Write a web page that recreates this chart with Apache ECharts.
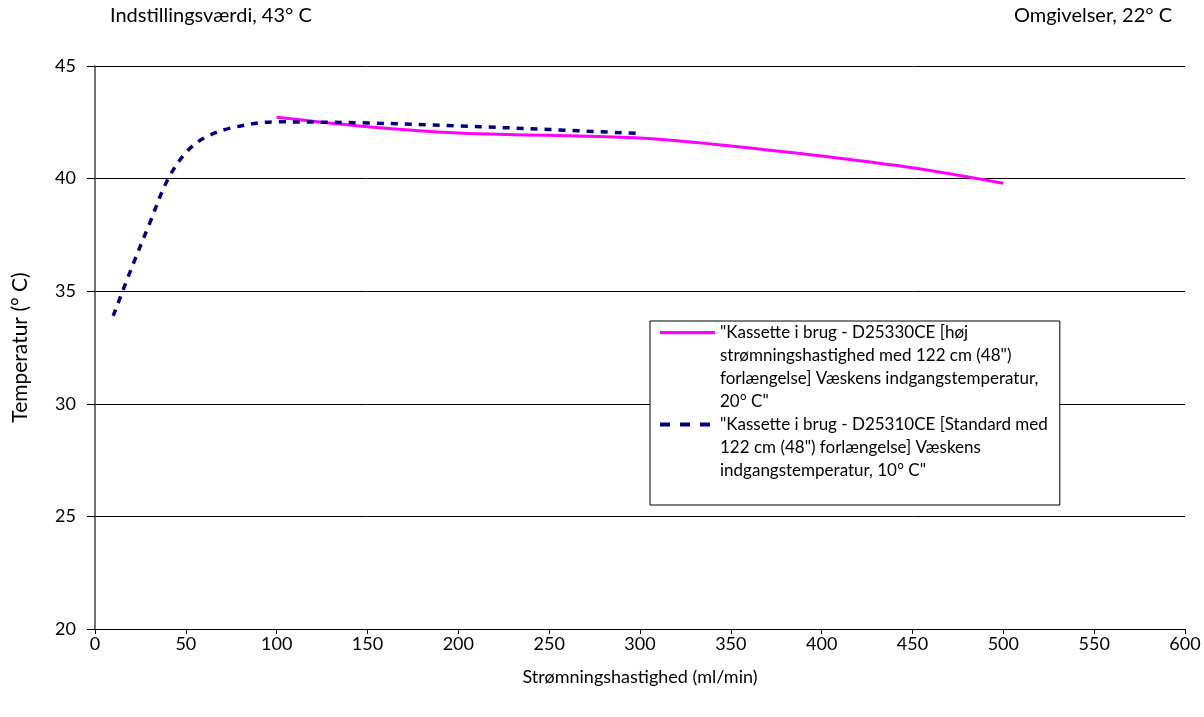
<!DOCTYPE html>
<html>
<head>
<meta charset="utf-8">
<script src="https://cdn.jsdelivr.net/npm/echarts@6/dist/echarts.min.js"></script>
<style>html,body{margin:0;padding:0;background:#fff}#c{width:1204px;height:717px}</style>
</head>
<body>
<div id="c"></div>
<script>
// ---- data ----
var flowHigh = [100, 150, 200, 250, 300, 350, 400, 450, 500];
var tempHigh = [42.72, 42.3, 42.02, 41.92, 41.8, 41.45, 41.0, 40.48, 39.79];
var flowStd = [10, 20, 30, 40, 50, 60, 75, 100, 150, 200, 250, 300];
var tempStd = [33.9, 36.0, 38.0, 39.95, 41.15, 41.8, 42.25, 42.52, 42.47, 42.34, 42.18, 42.0];
var nameHigh = '"Kassette i brug - D25330CE [høj\nstrømningshastighed med 122 cm (48")\nforlængelse] Væskens indgangstemperatur,\n20° C"';
var nameStd = '"Kassette i brug - D25310CE [Standard med\n122 cm (48") forlængelse] Væskens\nindgangstemperatur, 10° C"\n';
var titleLeft = 'Indstillingsværdi, 43° C';
var titleRight = 'Omgivelser, 22° C';
var xName = 'Strømningshastighed (ml/min)';
var yName = 'Temperatur (° C)';

function pairs(xs, ys) { return xs.map(function (x, i) { return [x, ys[i]]; }); }

var FONT = 'Lato';
var tiny = ' M0,0L0.01,0L0,0.01Z M55,92L54.99,92L55,91.99Z';
var iconSolid = 'path://M0,10L55,10L55,13.2L0,13.2Z' + tiny;
var iconDash = 'path://M0,9.5L10,9.5L10,13.5L0,13.5Z M20,9.5L30,9.5L30,13.5L20,13.5Z M40,9.5L50,9.5L50,13.5L40,13.5Z' + tiny;

var chart = echarts.init(document.getElementById('c'), null, { renderer: 'canvas' });
chart.setOption({
  animation: false,
  backgroundColor: '#fff',
  textStyle: { fontFamily: FONT, color: '#000' },
  title: [
    { text: titleLeft, left: 110, top: 6, padding: 0, textStyle: { fontFamily: FONT, fontSize: 20, fontWeight: 'normal', color: '#000' } },
    { text: titleRight, right: 32, top: 6, padding: 0, textStyle: { fontFamily: FONT, fontSize: 20, fontWeight: 'normal', color: '#000' } }
  ],
  grid: { left: 95, right: 19, top: 66, bottom: 88, containLabel: false },
  legend: {
    orient: 'vertical',
    left: 650,
    top: 321,
    padding: [0, 12, 0, 10],
    itemGap: 0,
    itemWidth: 55,
    itemHeight: 92,
    itemStyle: { borderWidth: 0 },
    backgroundColor: '#fff',
    borderColor: '#000',
    borderWidth: 1,
    selectedMode: false,
    textStyle: { fontFamily: FONT, fontSize: 17, lineHeight: 23, color: '#000' },
    data: [
      { name: nameHigh, icon: iconSolid },
      { name: nameStd, icon: iconDash }
    ]
  },
  xAxis: {
    type: 'value', min: 0, max: 600, interval: 50,
    name: xName, nameLocation: 'middle', nameGap: 39,
    nameTextStyle: { fontFamily: FONT, fontSize: 18, color: '#000' },
    axisLine: { show: true, lineStyle: { color: '#000', width: 1 } },
    axisTick: { show: true, length: 5, lineStyle: { color: '#000' } },
    axisLabel: { margin: 6, fontFamily: FONT, fontSize: 18, color: '#000' },
    splitLine: { show: false }
  },
  yAxis: {
    type: 'value', min: 20, max: 45, interval: 5,
    name: yName, nameLocation: 'middle', nameGap: 64, nameRotate: 90,
    nameTextStyle: { fontFamily: FONT, fontSize: 21, color: '#000' },
    axisLine: { show: true, lineStyle: { color: '#444', width: 1.5 } },
    axisTick: { show: true, length: 8, lineStyle: { color: '#000' } },
    axisLabel: { margin: 19, fontFamily: FONT, fontSize: 18, color: '#000' },
    splitLine: { show: true, lineStyle: { color: '#000', width: 1 } }
  },
  series: [
    {
      name: nameHigh, type: 'line', data: pairs(flowHigh, tempHigh),
      symbol: 'none', smooth: 0.35,
      lineStyle: { color: '#ff00ff', width: 3 },
      itemStyle: { color: '#ff00ff' }
    },
    {
      name: nameStd, type: 'line', data: pairs(flowStd, tempStd),
      symbol: 'none', smooth: 0.35,
      lineStyle: { color: '#000080', width: 3.5, type: [7, 7] },
      itemStyle: { color: '#000080' }
    }
  ]
});
</script>
</body>
</html>
